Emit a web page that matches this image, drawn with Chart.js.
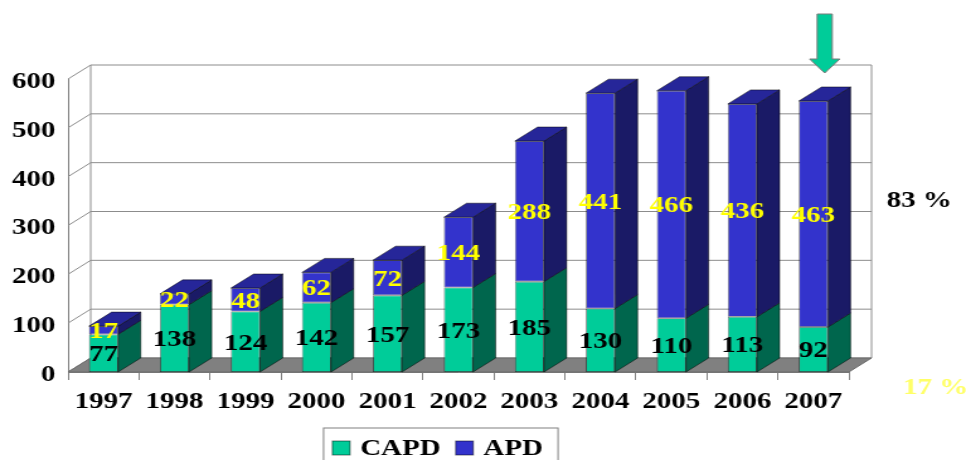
<!DOCTYPE html>
<html>
<head>
<meta charset="utf-8">
<script src="https://cdn.jsdelivr.net/npm/chart.js@4.4.0/dist/chart.umd.min.js"></script>
<style>
  html, body { margin: 0; padding: 0; background: #fff; }
</style>
</head>
<body>
<!-- the original picture is stretched sideways, so the canvas is drawn narrow and widened by its inline style -->
<canvas id="dialysisChart" width="767" height="460" style="display:block;width:966px;height:460px"></canvas>
<script>
// Patients per year by type of peritoneal dialysis
const years = ['1997', '1998', '1999', '2000', '2001', '2002', '2003', '2004', '2005', '2006', '2007'];
const capdPatients = [77, 138, 124, 142, 157, 173, 185, 130, 110, 113, 92];
const apdPatients = [17, 22, 48, 62, 72, 144, 288, 441, 466, 436, 463];
const yTicks = [0, 100, 200, 300, 400, 500, 600];
const apdShare = '83 %';
const capdShare = '17 %';

// 3D depth of the walls and boxes
const depthX = 18;
const depthY = -14;
const mainFont = { family: 'Liberation Serif', size: 23, weight: 'bold' };
const fontText = 'bold 23px "Liberation Serif"';

function face(ctx, pts, color) {
    ctx.beginPath();
    ctx.moveTo(pts[0][0], pts[0][1]);
    for (let i = 1; i < pts.length; i++) ctx.lineTo(pts[i][0], pts[i][1]);
    ctx.closePath();
    ctx.fillStyle = color;
    ctx.fill();
    ctx.stroke();
}

// Back wall, side grid lines and the grey floor
const wallPlugin = {
    id: 'walls',
    beforeDatasetsDraw(chart) {
        const { ctx, chartArea: a, scales } = chart;
        const y = scales.y;
        ctx.save();
        ctx.strokeStyle = '#8c8c8c';
        ctx.lineWidth = 1;
        y.ticks.forEach(t => {
            const py = y.getPixelForValue(t.value);
            ctx.beginPath();
            ctx.moveTo(a.left, py);
            ctx.lineTo(a.left + depthX, py + depthY);
            ctx.lineTo(a.right + depthX, py + depthY);
            ctx.stroke();
        });
        ctx.beginPath();
        ctx.moveTo(a.left + depthX, a.top + depthY);
        ctx.lineTo(a.left + depthX, a.bottom + depthY);
        ctx.moveTo(a.right + depthX, a.top + depthY);
        ctx.lineTo(a.right + depthX, a.bottom + depthY);
        ctx.stroke();

        ctx.strokeStyle = '#6a6a6a';
        face(ctx, [
            [a.left, a.bottom],
            [a.left + depthX, a.bottom + depthY],
            [a.right + depthX, a.bottom + depthY],
            [a.right, a.bottom]
        ], '#808080');
        ctx.restore();
    }
};

// Side and top faces of the boxes, then the value labels
const boxPlugin = {
    id: 'boxes',
    afterDatasetsDraw(chart) {
        const { ctx } = chart;
        const last = chart.data.datasets.length - 1;
        ctx.save();
        ctx.lineWidth = 0.8;
        ctx.strokeStyle = 'rgba(0,0,0,0.6)';
        chart.data.datasets.forEach((ds, i) => {
            chart.getDatasetMeta(i).data.forEach(bar => {
                const { x, y, base, width } = bar.getProps(['x', 'y', 'base', 'width'], true);
                const l = x - width / 2;
                const r = x + width / 2;
                face(ctx, [[r, y], [r + depthX, y + depthY], [r + depthX, base + depthY], [r, base]], ds.sideColor);
                if (i === last) {
                    face(ctx, [[l, y], [l + depthX, y + depthY], [r + depthX, y + depthY], [r, y]], ds.topColor);
                }
            });
        });

        ctx.font = fontText;
        ctx.textAlign = 'center';
        ctx.textBaseline = 'middle';
        chart.data.datasets.forEach((ds, i) => {
            ctx.fillStyle = ds.labelColor;
            chart.getDatasetMeta(i).data.forEach((bar, j) => {
                const { x, y, base } = bar.getProps(['x', 'y', 'base'], true);
                ctx.fillText(ds.data[j], x, (y + base) / 2 + 2);
            });
        });
        ctx.restore();
    }
};

// Arrow over 2007, share texts and the boxed legend
const notesPlugin = {
    id: 'notes',
    afterDraw(chart) {
        const { ctx, chartArea: a } = chart;
        const last = chart.data.datasets.length - 1;
        const bar = chart.getDatasetMeta(last).data[years.length - 1];
        const cx = bar.x + depthX / 2;
        const tip = a.top - 6;
        ctx.save();
        ctx.strokeStyle = '#7a7a7a';
        ctx.lineWidth = 1;
        face(ctx, [
            [cx - 6, tip - 59], [cx + 6, tip - 59], [cx + 6, tip - 14], [cx + 12, tip - 14],
            [cx, tip], [cx - 12, tip - 14], [cx - 6, tip - 14]
        ], '#00cc99');

        ctx.font = fontText;
        ctx.textAlign = 'left';
        ctx.textBaseline = 'middle';
        ctx.fillStyle = '#000';
        ctx.fillText(apdShare, a.right + 30, a.top + 122);
        ctx.fillStyle = '#ffff66';
        ctx.fillText(capdShare, a.right + 43, a.bottom + 16);

        // legend
        const sq = 14;
        const items = chart.data.datasets.map(ds => ({ text: ds.label, color: ds.backgroundColor, w: ctx.measureText(ds.label).width }));
        const total = items.reduce((s, it) => s + sq + 8 + it.w, 0) + 12 * (items.length - 1) + 7 + 12;
        const left = (a.left + a.right) / 2 - 14 - total / 2;
        const top = 428;
        ctx.strokeStyle = '#808080';
        ctx.strokeRect(left, top, total, 40);
        let px = left + 7;
        ctx.textBaseline = 'alphabetic';
        items.forEach(it => {
            ctx.fillStyle = it.color;
            ctx.fillRect(px, top + 13, sq, sq);
            ctx.strokeStyle = 'rgba(0,0,0,0.5)';
            ctx.strokeRect(px, top + 13, sq, sq);
            px += sq + 8;
            ctx.fillStyle = '#000';
            ctx.fillText(it.text, px, top + 27);
            px += it.w + 12;
        });
        ctx.restore();
    }
};

const ctx = document.getElementById('dialysisChart').getContext('2d');
new Chart(ctx, {
    type: 'bar',
    data: {
        labels: years,
        datasets: [
            {
                label: 'CAPD',
                data: capdPatients,
                backgroundColor: '#00cc99',
                sideColor: '#00664d',
                topColor: '#009973',
                labelColor: '#000000',
                borderColor: 'rgba(0,0,0,0.6)',
                borderWidth: 0.8,
                borderSkipped: false
            },
            {
                label: 'APD',
                data: apdPatients,
                backgroundColor: '#3333cc',
                sideColor: '#1a1a66',
                topColor: '#262699',
                labelColor: '#ffff00',
                borderColor: 'rgba(0,0,0,0.6)',
                borderWidth: 0.8,
                borderSkipped: false
            }
        ]
    },
    options: {
        responsive: false,
        animation: false,
        devicePixelRatio: 1,
        layout: { padding: { left: 0, right: 93, top: 79, bottom: 0 } },
        datasets: { bar: { categoryPercentage: 1, barPercentage: 0.41 } },
        plugins: {
            legend: { display: false },
            tooltip: { enabled: false }
        },
        scales: {
            x: {
                stacked: true,
                afterFit(scale) { scale.height = 88; },
                grid: { display: true, drawOnChartArea: false, drawTicks: true, tickLength: 8, color: '#808080' },
                border: { color: '#808080' },
                ticks: { color: '#000', font: mainFont, padding: 8, maxRotation: 0, autoSkip: false }
            },
            y: {
                stacked: true,
                min: yTicks[0],
                max: yTicks[yTicks.length - 1],
                afterFit(scale) { scale.width = 54; },
                afterBuildTicks(scale) { scale.ticks = yTicks.map(v => ({ value: v })); },
                grid: { display: false, drawTicks: false },
                border: { color: '#808080' },
                ticks: { color: '#000', font: mainFont, padding: 10, labelOffset: 3 }
            }
        }
    },
    plugins: [wallPlugin, boxPlugin, notesPlugin]
});
</script>
</body>
</html>
